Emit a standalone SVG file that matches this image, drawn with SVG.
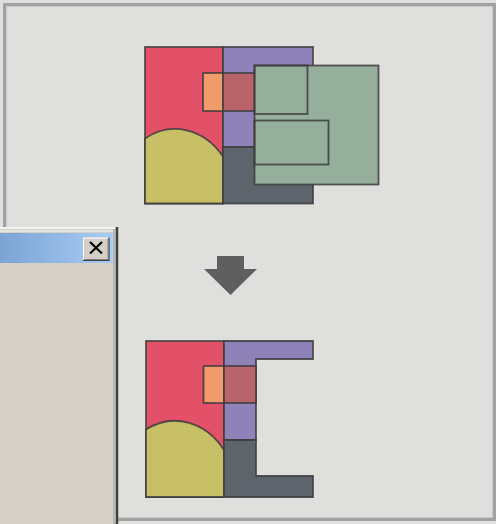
<svg xmlns="http://www.w3.org/2000/svg" width="496" height="524" viewBox="0 0 496 524">
  <defs>
    <style>
      .s{stroke:#3c3c3c;stroke-opacity:0.85;stroke-width:1.8;stroke-linejoin:miter}
      .red{fill:#e35169}
      .yel{fill:#c7c067}
      .pur{fill:#8f82b9}
      .sla{fill:#5d646c}
      .org{fill:#f09b69}
      .brn{fill:#b9646b}
      .grn{fill:#96af9c}
      .none{fill:none}
    </style>
    <linearGradient id="tb" x1="0" y1="0" x2="1" y2="0">
      <stop offset="0" stop-color="#7ba3d4"/>
      <stop offset="1" stop-color="#a9cdf3"/>
    </linearGradient>
  </defs>
  <rect x="0" y="0" width="496" height="524" fill="#dfdfdd"/>
  <rect x="4.5" y="4.5" width="490" height="515" fill="none" stroke="#a2a2a2" stroke-width="3"/>
  <rect x="6.5" y="6.5" width="486" height="511" fill="none" stroke="#c8c8c8" stroke-width="1"/>

  <g id="top-figure">
    <rect class="red s" x="145" y="47" width="78" height="156.5"/>
    <path class="yel s" d="M145,138.4 A62,75 0 0 1 223,156.5 L223,203.5 L145,203.5 Z"/>
    <rect class="pur s" x="223" y="47" width="90" height="100"/>
    <rect class="sla s" x="223" y="147" width="90" height="56.5"/>
    <rect class="org s" x="203" y="73" width="20" height="38"/>
    <rect class="brn s" x="223" y="73" width="33" height="38"/>
    <rect class="grn s" x="254.5" y="65.5" width="124" height="119"/>
    <rect class="none s" x="254.5" y="65.5" width="53" height="48.5"/>
    <rect class="none s" x="254.5" y="120.5" width="74" height="44"/>
  </g>

  <g id="arrow">
    <polygon points="217,256 244,256 244,269 257,269 230.5,295 204,269 217,269" fill="#5f5f5f"/>
  </g>

  <g id="bottom-figure">
    <rect class="red s" x="146" y="341" width="78" height="156"/>
    <path class="yel s" d="M146,429.5 A62,75 0 0 1 224,450 L224,497 L146,497 Z"/>
    <path class="pur s" d="M224,341 L313,341 L313,359 L256,359 L256,440 L224,440 Z"/>
    <path class="sla s" d="M224,440 L256,440 L256,476 L313,476 L313,497 L224,497 Z"/>
    <rect class="org s" x="203.5" y="366" width="20.5" height="37"/>
    <rect class="brn s" x="224" y="366" width="32" height="37"/>
  </g>

  <g id="dialog">
    <rect x="0" y="227" width="118" height="297" fill="#d4d0c8"/>
    <line x1="0" y1="228" x2="115" y2="228" stroke="#f4f4f4" stroke-width="2"/>
    <line x1="0" y1="231" x2="114" y2="231" stroke="#e6e4de" stroke-width="2"/>
    <line x1="114" y1="229" x2="114" y2="524" stroke="#b8b6b0" stroke-width="2"/>
    <line x1="117" y1="227" x2="117" y2="524" stroke="#404040" stroke-width="2.5"/>
    <rect x="0" y="233" width="113" height="30" fill="url(#tb)"/>
    <g id="close-button">
      <rect x="83" y="237.5" width="26" height="23" fill="#d4d0c8"/>
      <path d="M83.5,260 V238 H108.5" fill="none" stroke="#ffffff" stroke-width="1"/>
      <path d="M83,260.5 H109 V237.5" fill="none" stroke="#404040" stroke-width="1.2"/>
      <path d="M84,259.5 H108 V238.5" fill="none" stroke="#808080" stroke-width="1"/>
      <path d="M90,242 L102,253.5 M102,242 L90,253.5" stroke="#000" stroke-width="2.2"/>
    </g>
  </g>
</svg>
